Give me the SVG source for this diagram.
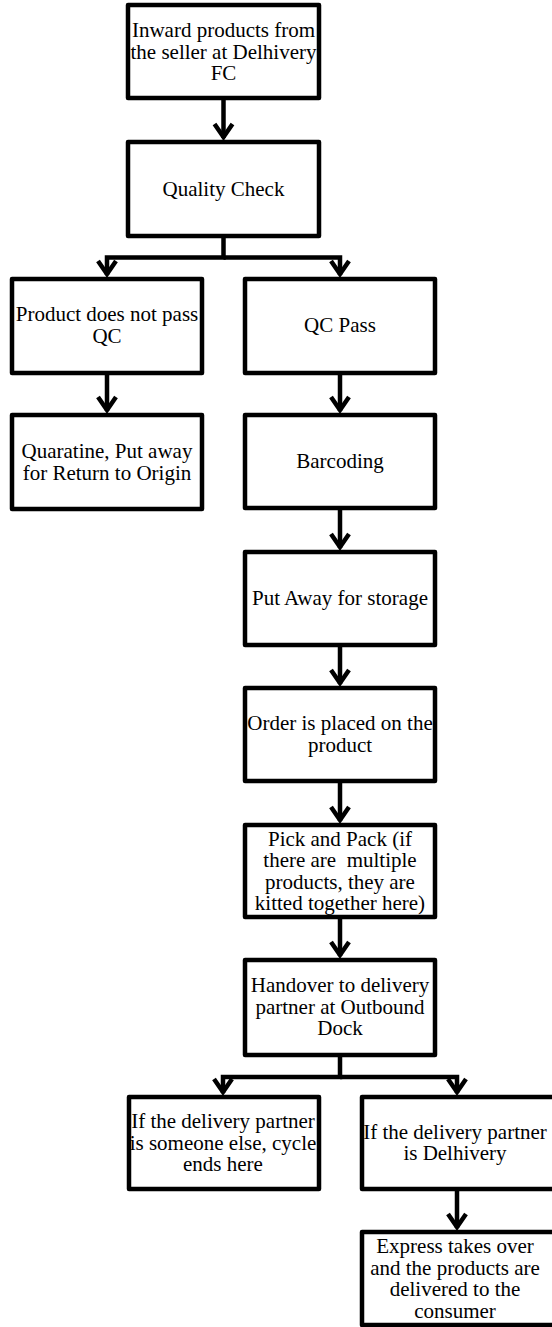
<svg xmlns="http://www.w3.org/2000/svg" width="552" height="1327" viewBox="0 0 552 1327">
  <style>
    .box { fill: #fff; stroke: #000; stroke-width: 4.5; stroke-linejoin: round; }
    .lbl { font-family: "Liberation Serif", "Times New Roman", serif; font-size: 21px; fill: #000; text-anchor: middle; white-space: pre; }
    .wire { fill: none; stroke: #000; stroke-width: 4.5; stroke-linejoin: miter; }
  </style>
  <defs>
    <marker id="arrow" markerUnits="userSpaceOnUse" viewBox="-20 -15 30 30" markerWidth="30" markerHeight="30" refX="0" refY="0" orient="auto" overflow="visible">
      <path d="M-14,-9 L-1,0 L-14,9" fill="none" stroke="#000" stroke-width="4.5" stroke-linejoin="miter"/>
    </marker>
  </defs>
  <rect width="552" height="1327" fill="#fff"/>

  <g id="connectors">
    <path class="wire" d="M223.5,98 V138" marker-end="url(#arrow)"/>
    <path class="wire" d="M223.5,236 V257.5 H107 V275" marker-end="url(#arrow)"/>
    <path class="wire" d="M223.5,257.5 H340 V275" marker-end="url(#arrow)"/>
    <path class="wire" d="M107,373 V411" marker-end="url(#arrow)"/>
    <path class="wire" d="M340,373 V411" marker-end="url(#arrow)"/>
    <path class="wire" d="M340,508 V548" marker-end="url(#arrow)"/>
    <path class="wire" d="M340,645 V684" marker-end="url(#arrow)"/>
    <path class="wire" d="M340,781 V821" marker-end="url(#arrow)"/>
    <path class="wire" d="M340,917 V956" marker-end="url(#arrow)"/>
    <path class="wire" d="M340,1055 V1077 H223 V1093" marker-end="url(#arrow)"/>
    <path class="wire" d="M340,1077 H457 V1093" marker-end="url(#arrow)"/>
    <path class="wire" d="M457,1189 V1228" marker-end="url(#arrow)"/>
  </g>

  <g id="inward">
    <rect class="box" x="128" y="5" width="191" height="93"/>
    <text class="lbl" x="223.5" y="37">Inward products from</text>
    <text class="lbl" x="223.5" y="58.5">the seller at Delhivery</text>
    <text class="lbl" x="223.5" y="80">FC</text>
  </g>

  <g id="quality-check">
    <rect class="box" x="128" y="142" width="191" height="94"/>
    <text class="lbl" x="223.5" y="196">Quality Check</text>
  </g>

  <g id="qc-fail">
    <rect class="box" x="12" y="279" width="190" height="94"/>
    <text class="lbl" x="107" y="321">Product does not pass</text>
    <text class="lbl" x="107" y="342.5">QC</text>
  </g>

  <g id="quarantine">
    <rect class="box" x="12" y="415" width="190" height="94"/>
    <text class="lbl" x="107" y="458">Quaratine, Put away</text>
    <text class="lbl" x="107" y="479.5">for Return to Origin</text>
  </g>

  <g id="qc-pass">
    <rect class="box" x="245" y="279" width="190" height="94"/>
    <text class="lbl" x="340" y="332">QC Pass</text>
  </g>

  <g id="barcoding">
    <rect class="box" x="245" y="415" width="190" height="93"/>
    <text class="lbl" x="340" y="468">Barcoding</text>
  </g>

  <g id="put-away">
    <rect class="box" x="245" y="552" width="190" height="93"/>
    <text class="lbl" x="340" y="605">Put Away for storage</text>
  </g>

  <g id="order-placed">
    <rect class="box" x="245" y="688" width="190" height="93"/>
    <text class="lbl" x="340" y="730">Order is placed on the</text>
    <text class="lbl" x="340" y="751.5">product</text>
  </g>

  <g id="pick-pack">
    <rect class="box" x="245" y="825" width="190" height="92"/>
    <text class="lbl" x="340" y="845.5">Pick and Pack (if</text>
    <text class="lbl" x="340" y="867">there are  multiple</text>
    <text class="lbl" x="340" y="888.5">products, they are</text>
    <text class="lbl" x="340" y="910">kitted together here)</text>
  </g>

  <g id="handover">
    <rect class="box" x="245" y="960" width="190" height="95"/>
    <text class="lbl" x="340" y="992">Handover to delivery</text>
    <text class="lbl" x="340" y="1013.5">partner at Outbound</text>
    <text class="lbl" x="340" y="1035">Dock</text>
  </g>

  <g id="other-partner">
    <rect class="box" x="129" y="1097" width="190" height="92"/>
    <text class="lbl" x="223" y="1128">If the delivery partner</text>
    <text class="lbl" x="223" y="1149.5">is someone else, cycle</text>
    <text class="lbl" x="223" y="1171">ends here</text>
  </g>

  <g id="delhivery-partner">
    <rect class="box" x="362" y="1097" width="193" height="92"/>
    <text class="lbl" x="455" y="1138.5">If the delivery partner</text>
    <text class="lbl" x="455" y="1160">is Delhivery</text>
  </g>

  <g id="express">
    <rect class="box" x="362" y="1232" width="193" height="93"/>
    <text class="lbl" x="455" y="1253">Express takes over</text>
    <text class="lbl" x="455" y="1274.5">and the products are</text>
    <text class="lbl" x="455" y="1296">delivered to the</text>
    <text class="lbl" x="455" y="1317.5">consumer</text>
  </g>
</svg>
